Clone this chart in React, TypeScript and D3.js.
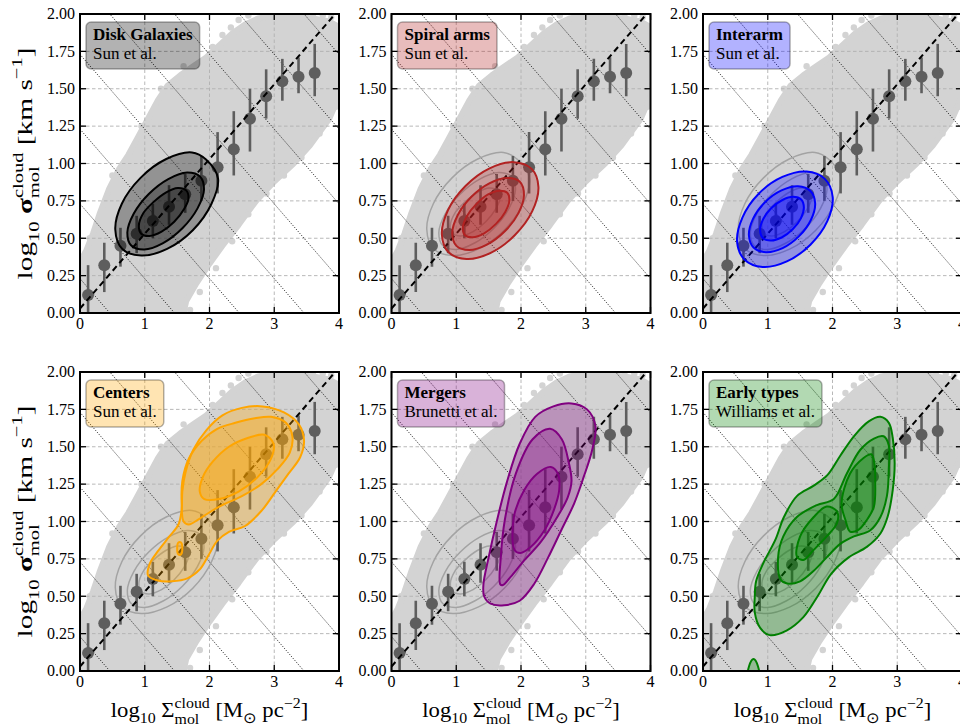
import React, { useEffect, useRef } from 'react';
import * as d3 from 'd3';

type Pt = [number, number];

const SERIF = '"Liberation Serif", "Times New Roman", Times, serif';
const WIDTH = 960;
const HEIGHT = 728;
const PANEL_W = 259;
const PANEL_H = 299;
const COL_LEFT = [80, 391.5, 703];
const ROW_TOP = [14, 372];
const X_TITLE_WIDTH = 198;
const Y_TITLE_LENGTH = 232;

const X_DOMAIN: [number, number] = [0, 4];
const Y_DOMAIN: [number, number] = [0, 2];
const X_TICKS = [0, 1, 2, 3, 4];
const Y_TICKS = [0, 0.25, 0.5, 0.75, 1, 1.25, 1.5, 1.75, 2];

// Binned medians of the full cloud sample, with their scatter ranges
const BIN_X = [0.125, 0.375, 0.625, 0.875, 1.125, 1.375, 1.625, 1.875, 2.125, 2.375, 2.625, 2.875, 3.125, 3.375, 3.625];
const BIN_MEDIAN = [0.12, 0.32, 0.45, 0.53, 0.615, 0.71, 0.795, 0.885, 0.975, 1.095, 1.3, 1.45, 1.55, 1.58, 1.605];
const BIN_LOW = [-0.1, 0.14, 0.31, 0.4, 0.5, 0.59, 0.67, 0.75, 0.8, 0.92, 1.08, 1.3, 1.42, 1.47, 1.45];
const BIN_HIGH = [0.32, 0.47, 0.57, 0.65, 0.73, 0.855, 0.93, 1.05, 1.21, 1.35, 1.5, 1.63, 1.7, 1.71, 1.8];

// Envelope of the dense cloud population and a few isolated clouds around it
const CLOUD_ENVELOPE: Pt[] = [
  [-0.05, -0.1], [-0.05, 0.3], [0.1, 0.42], [0.2, 0.53], [0.3, 0.66], [0.45, 0.83], [0.6, 0.96],
  [0.75, 1.06], [0.9, 1.18], [1.05, 1.3], [1.2, 1.42], [1.35, 1.52], [1.55, 1.59], [1.75, 1.65],
  [1.95, 1.71], [2.15, 1.79], [2.35, 1.87], [2.55, 1.93], [2.75, 1.97], [3.0, 1.99], [3.3, 1.98],
  [3.6, 1.97], [3.85, 1.95], [4.05, 1.9], [4.05, 1.5], [3.85, 1.3], [3.55, 1.12], [3.3, 1.0],
  [3.0, 0.88], [2.72, 0.75], [2.45, 0.59], [2.2, 0.45], [2.0, 0.33], [1.8, 0.2], [1.64, 0.08], [1.55, -0.1],
];
const CLOUD_OUTLIERS: Pt[] = [
  [2.2, 1.86], [2.33, 1.91], [2.45, 1.96], [2.6, 1.99], [2.7, 1.93], [2.85, 2.0], [3.0, 2.02], [3.15, 1.98],
  [3.3, 2.01], [3.45, 1.97], [3.6, 2.0], [3.75, 1.99], [3.88, 1.98], [2.05, 1.78], [1.6, 1.65],
  [1.25, 1.5], [0.95, 1.25], [0.5, 0.92], [0.15, 0.5], [0.0, 0.36], [1.7, 0.02], [1.85, 0.14], [2.1, 0.3],
  [2.35, 0.48], [2.6, 0.66], [2.88, 0.8], [3.15, 0.92], [3.42, 1.04], [3.7, 1.2], [3.95, 1.38],
];

// Virial reference lines: y = c - x/2
const VIRIAL_INTERCEPTS = [0.23, 0.73, 1.23, 1.73, 2.23, 2.73, 3.23, 3.73];
const VIRIAL_SLOPE = -0.5;
// Constant-virial trend: y = x/2 + c
const TREND_SLOPE = 0.5;
const TREND_INTERCEPT = 0.03;

// Density contours (outer, middle, inner) for each environment
const DISK_CONTOURS: Pt[][] = [
  [[1.946, 1.027], [2.132, 0.899], [2.031, 0.731], [1.742, 0.554], [1.345, 0.429], [0.948, 0.384], [0.654, 0.428], [0.545, 0.559], [0.646, 0.731], [0.935, 0.904], [1.332, 1.03], [1.729, 1.074]],
  [[1.855, 0.912], [1.915, 0.826], [1.815, 0.7], [1.585, 0.569], [1.283, 0.468], [0.992, 0.425], [0.791, 0.451], [0.731, 0.538], [0.831, 0.665], [1.062, 0.796], [1.363, 0.896], [1.654, 0.94]],
  [[1.64, 0.82], [1.675, 0.765], [1.608, 0.695], [1.455, 0.61], [1.26, 0.544], [1.072, 0.515], [0.945, 0.53], [0.909, 0.586], [0.977, 0.667], [1.129, 0.74], [1.325, 0.806], [1.512, 0.836]],
];
const SPIRAL_CONTOURS: Pt[][] = [
  [[2.165, 0.964], [2.269, 0.844], [2.174, 0.681], [1.903, 0.52], [1.532, 0.402], [1.158, 0.361], [0.881, 0.406], [0.778, 0.526], [0.873, 0.689], [1.143, 0.85], [1.515, 0.968], [1.889, 1.009]],
  [[1.982, 0.878], [2.046, 0.789], [1.963, 0.67], [1.754, 0.548], [1.474, 0.457], [1.2, 0.421], [1.003, 0.449], [0.938, 0.535], [1.022, 0.654], [1.231, 0.776], [1.511, 0.867], [1.785, 0.903]],
  [[1.788, 0.804], [1.821, 0.752], [1.757, 0.676], [1.614, 0.596], [1.431, 0.533], [1.255, 0.506], [1.135, 0.52], [1.102, 0.573], [1.166, 0.649], [1.309, 0.728], [1.492, 0.793], [1.668, 0.818]],
];
const INTERARM_CONTOURS: Pt[][] = [
  [[1.881, 0.897], [2.003, 0.775], [1.92, 0.614], [1.659, 0.457], [1.295, 0.345], [0.921, 0.308], [0.639, 0.358], [0.526, 0.479], [0.61, 0.64], [0.86, 0.798], [1.226, 0.91], [1.6, 0.946]],
  [[1.659, 0.816], [1.732, 0.734], [1.668, 0.624], [1.484, 0.514], [1.23, 0.434], [0.972, 0.407], [0.781, 0.438], [0.709, 0.52], [0.774, 0.631], [0.957, 0.741], [1.212, 0.82], [1.468, 0.848]],
  [[1.516, 0.759], [1.558, 0.706], [1.512, 0.633], [1.385, 0.56], [1.215, 0.505], [1.047, 0.485], [0.924, 0.502], [0.882, 0.556], [0.929, 0.628], [1.056, 0.702], [1.226, 0.756], [1.394, 0.777]],
];
const CENTER_CONTOURS: Pt[][] = [
  [[1.05, 0.64], [1.08, 0.72], [1.2, 0.8], [1.38, 0.9], [1.52, 0.98], [1.57, 1.08], [1.58, 1.2], [1.63, 1.33], [1.75, 1.48], [1.95, 1.61], [2.2, 1.71], [2.5, 1.76], [2.82, 1.77], [3.15, 1.73], [3.38, 1.65], [3.46, 1.54], [3.4, 1.43], [3.22, 1.32], [3.02, 1.2], [2.8, 1.07], [2.55, 0.97], [2.3, 0.93], [2.12, 0.87], [1.98, 0.77], [1.85, 0.68], [1.66, 0.62], [1.42, 0.6], [1.2, 0.605]],
  [[1.6, 1.0], [1.57, 1.12], [1.58, 1.27], [1.68, 1.42], [1.88, 1.54], [2.12, 1.62], [2.4, 1.66], [2.7, 1.69], [2.95, 1.7], [3.18, 1.66], [3.28, 1.57], [3.24, 1.46], [3.05, 1.35], [2.8, 1.25], [2.5, 1.17], [2.15, 1.1], [1.85, 1.02], [1.68, 0.98]],
  [[1.85, 1.2], [1.9, 1.3], [2.05, 1.4], [2.3, 1.5], [2.6, 1.56], [2.85, 1.58], [2.99, 1.52], [2.95, 1.42], [2.75, 1.3], [2.45, 1.2], [2.15, 1.15], [1.92, 1.15]],
  [[1.5, 0.82], [1.52, 0.86], [1.56, 0.86], [1.58, 0.82], [1.56, 0.78], [1.52, 0.78]],
];
const MERGER_CONTOURS: Pt[][] = [
  [[1.43, 0.5], [1.42, 0.58], [1.5, 0.76], [1.62, 0.99], [1.78, 1.26], [1.98, 1.52], [2.22, 1.7], [2.5, 1.77], [2.78, 1.79], [3.02, 1.75], [3.15, 1.64], [3.1, 1.48], [2.97, 1.3], [2.82, 1.12], [2.62, 0.94], [2.42, 0.76], [2.2, 0.58], [1.98, 0.47], [1.74, 0.44], [1.53, 0.45]],
  [[1.68, 0.58], [1.69, 0.77], [1.75, 1.01], [1.92, 1.32], [2.18, 1.55], [2.45, 1.62], [2.63, 1.55], [2.74, 1.39], [2.78, 1.27], [2.72, 1.16], [2.56, 1.03], [2.3, 0.86], [2.05, 0.74], [1.84, 0.63], [1.72, 0.575]],
  [[1.9, 0.81], [1.89, 1.03], [2.05, 1.21], [2.25, 1.32], [2.46, 1.365], [2.57, 1.32], [2.59, 1.21], [2.51, 1.08], [2.36, 0.94], [2.15, 0.83], [1.99, 0.79]],
];
const EARLY_CONTOURS: Pt[][] = [
  [[0.8, 0.5], [0.82, 0.6], [0.93, 0.72], [1.12, 0.88], [1.25, 1.03], [1.45, 1.17], [1.71, 1.24], [1.92, 1.31], [2.12, 1.44], [2.33, 1.57], [2.56, 1.67], [2.74, 1.7], [2.87, 1.66], [2.93, 1.56], [2.96, 1.39], [2.93, 1.21], [2.85, 1.03], [2.74, 0.92], [2.53, 0.83], [2.25, 0.76], [1.98, 0.65], [1.77, 0.5], [1.55, 0.36], [1.29, 0.27], [1.03, 0.24], [0.88, 0.29], [0.8, 0.39]],
  [[1.2, 0.61], [1.16, 0.76], [1.24, 0.9], [1.45, 1.03], [1.76, 1.11], [2.02, 1.15], [2.22, 1.32], [2.43, 1.48], [2.64, 1.555], [2.79, 1.57], [2.87, 1.51], [2.87, 1.35], [2.84, 1.17], [2.74, 1.03], [2.58, 0.94], [2.33, 0.9], [2.12, 0.85], [1.91, 0.76], [1.71, 0.67], [1.5, 0.6], [1.3, 0.585]],
  [[1.45, 0.765], [1.5, 0.9], [1.71, 1.03], [1.91, 1.1], [2.07, 1.067], [2.07, 0.99], [1.91, 0.9], [1.71, 0.81], [1.55, 0.743]],
  [[2.14, 1.12], [2.27, 1.32], [2.48, 1.425], [2.6, 1.45], [2.65, 1.38], [2.66, 1.257], [2.64, 1.1], [2.53, 1.01], [2.4, 0.944], [2.27, 0.933], [2.2, 1.01]],
  [[0.7, -0.06], [0.71, 0.03], [0.78, 0.08], [0.85, 0.03], [0.86, -0.06], [0.78, -0.1]],
];

const PANEL_TITLES = ['Disk Galaxies', 'Spiral arms', 'Interarm', 'Centers', 'Mergers', 'Early types'];
const PANEL_SOURCES = ['Sun et al.', 'Sun et al.', 'Sun et al.', 'Sun et al.', 'Brunetti et al.', 'Williams et al.'];
const PANEL_COLORS = ['#000000', '#b22222', '#0000ff', '#ffa500', '#800080', '#008000'];
const PANEL_CONTOURS = [DISK_CONTOURS, SPIRAL_CONTOURS, INTERARM_CONTOURS, CENTER_CONTOURS, MERGER_CONTOURS, EARLY_CONTOURS];

const CLOUD_COLOR = '#d3d3d3';
const MEDIAN_COLOR = '#5e5e5e';
const GRID_COLOR = '#b0b0b0';
const REF_CONTOUR_COLOR = '#a3a3a3';

type Piece =
  | { kind: 'main'; text: string; bold?: boolean }
  | { kind: 'sub'; text: string }
  | { kind: 'sup'; text: string }
  | { kind: 'stack'; upper: string; lower: string };

const X_LABEL: Piece[] = [
  { kind: 'main', text: 'log' },
  { kind: 'sub', text: '10' },
  { kind: 'main', text: ' Σ' },
  { kind: 'stack', upper: 'cloud', lower: 'mol' },
  { kind: 'main', text: ' [M' },
  { kind: 'sub', text: '⊙' },
  { kind: 'main', text: ' pc' },
  { kind: 'sup', text: '−2' },
  { kind: 'main', text: ']' },
];
const Y_LABEL: Piece[] = [
  { kind: 'main', text: 'log' },
  { kind: 'sub', text: '10' },
  { kind: 'main', text: ' σ', bold: true },
  { kind: 'stack', upper: 'cloud', lower: 'mol' },
  { kind: 'main', text: ' [km s' },
  { kind: 'sup', text: '−1' },
  { kind: 'main', text: ']' },
];

type Sel = d3.Selection<any, any, any, any>;

function drawMath(parent: Sel, pieces: Piece[], F: number): Sel {
  const text = parent
    .append('text')
    .attr('font-family', SERIF)
    .attr('font-size', F)
    .attr('fill', '#000')
    .attr('text-anchor', 'middle')
    .style('white-space', 'pre');
  let cur = 0;
  let pendingDx = 0;
  const put = (s: string, size: number, off: number, bold: boolean, dx: number) => {
    const ts = text.append('tspan').attr('font-size', size).attr('dy', off - cur).text(s);
    if (dx) ts.attr('dx', dx);
    if (bold) ts.attr('font-weight', 'bold');
    cur = off;
    return (ts.node() as SVGTextContentElement).getComputedTextLength();
  };
  const small = 0.7 * F;
  for (const p of pieces) {
    if (p.kind === 'main') {
      put(p.text, F, 0, !!p.bold, pendingDx);
      pendingDx = 0;
    } else if (p.kind === 'sub') {
      put(p.text, small, 0.3 * F, false, pendingDx);
      pendingDx = 0;
    } else if (p.kind === 'sup') {
      put(p.text, small, -0.45 * F, false, pendingDx);
      pendingDx = 0;
    } else {
      const wu = put(p.upper, small, -0.42 * F, false, pendingDx);
      const wl = put(p.lower, small, 0.33 * F, false, -wu);
      pendingDx = Math.max(0, wu - wl);
    }
  }
  return text;
}

// Stretch a label along its reading direction to a given extent
function fitLength(text: Sel, target: number) {
  const w = (text.node() as SVGTextElement).getBBox().width;
  if (w > 0) text.attr('transform', `scale(${target / w},1)`);
}

export default function App() {
  const ref = useRef<SVGSVGElement | null>(null);

  useEffect(() => {
    const svg = d3.select(ref.current);
    svg.selectAll('*').remove();
    const defs = svg.append('defs');

    PANEL_TITLES.forEach((title, i) => {
      const col = i % 3;
      const row = Math.floor(i / 3);
      const left = COL_LEFT[col];
      const top = ROW_TOP[row];
      const x = d3.scaleLinear().domain(X_DOMAIN).range([left, left + PANEL_W]);
      const y = d3.scaleLinear().domain(Y_DOMAIN).range([top + PANEL_H, top]);
      const color = PANEL_COLORS[i];

      const clipId = `panel-clip-${i}`;
      defs.append('clipPath').attr('id', clipId)
        .append('rect').attr('x', left).attr('y', top).attr('width', PANEL_W).attr('height', PANEL_H);

      const g = svg.append('g');
      const plot = g.append('g').attr('clip-path', `url(#${clipId})`);

      const straight = d3.line<Pt>().x((d) => x(d[0])).y((d) => y(d[1])).curve(d3.curveLinearClosed);
      const smooth = d3.line<Pt>().x((d) => x(d[0])).y((d) => y(d[1])).curve(d3.curveCatmullRomClosed.alpha(0.5));

      // cloud population
      plot.append('path')
        .attr('d', straight(CLOUD_ENVELOPE))
        .attr('fill', CLOUD_COLOR)
        .attr('stroke', CLOUD_COLOR)
        .attr('stroke-width', 6)
        .attr('stroke-linejoin', 'round');
      plot.selectAll('circle.outlier').data(CLOUD_OUTLIERS).join('circle')
        .attr('class', 'outlier')
        .attr('cx', (d) => x(d[0])).attr('cy', (d) => y(d[1])).attr('r', 3.2)
        .attr('fill', CLOUD_COLOR);

      // grid
      X_TICKS.forEach((t) => {
        plot.append('line')
          .attr('x1', x(t)).attr('x2', x(t)).attr('y1', y(Y_DOMAIN[0])).attr('y2', y(Y_DOMAIN[1]))
          .attr('stroke', GRID_COLOR).attr('stroke-width', 0.9).attr('stroke-dasharray', '3.5,2.5');
      });
      Y_TICKS.forEach((t) => {
        plot.append('line')
          .attr('x1', x(X_DOMAIN[0])).attr('x2', x(X_DOMAIN[1])).attr('y1', y(t)).attr('y2', y(t))
          .attr('stroke', GRID_COLOR).attr('stroke-width', 0.9).attr('stroke-dasharray', '3.5,2.5');
      });

      // virial reference lines
      VIRIAL_INTERCEPTS.forEach((c) => {
        plot.append('line')
          .attr('x1', x(X_DOMAIN[0])).attr('y1', y(c + VIRIAL_SLOPE * X_DOMAIN[0]))
          .attr('x2', x(X_DOMAIN[1])).attr('y2', y(c + VIRIAL_SLOPE * X_DOMAIN[1]))
          .attr('stroke', '#000').attr('stroke-width', 0.9).attr('stroke-dasharray', '1,1.6');
      });

      // reference disk contours
      if (i > 0) {
        DISK_CONTOURS.forEach((c) => {
          plot.append('path').attr('d', smooth(c))
            .attr('fill', 'none').attr('stroke', REF_CONTOUR_COLOR).attr('stroke-width', 1.5);
        });
      }

      // binned medians
      BIN_X.forEach((bx, k) => {
        plot.append('line')
          .attr('x1', x(bx)).attr('x2', x(bx)).attr('y1', y(BIN_LOW[k])).attr('y2', y(BIN_HIGH[k]))
          .attr('stroke', MEDIAN_COLOR).attr('stroke-width', 2.6);
        plot.append('circle')
          .attr('cx', x(bx)).attr('cy', y(BIN_MEDIAN[k])).attr('r', 6)
          .attr('fill', MEDIAN_COLOR);
      });

      // constant virial parameter trend
      plot.append('line')
        .attr('x1', x(X_DOMAIN[0])).attr('y1', y(TREND_INTERCEPT + TREND_SLOPE * X_DOMAIN[0]))
        .attr('x2', x(X_DOMAIN[1])).attr('y2', y(TREND_INTERCEPT + TREND_SLOPE * X_DOMAIN[1]))
        .attr('stroke', '#000').attr('stroke-width', 2).attr('stroke-dasharray', '6,4');

      // environment contours
      PANEL_CONTOURS[i].forEach((c) => {
        plot.append('path').attr('d', smooth(c))
          .attr('fill', color).attr('fill-opacity', 0.3)
          .attr('stroke', color).attr('stroke-width', 2);
      });

      // legend box
      const leg = g.append('g');
      const tx = left + 13;
      const t1 = leg.append('text').attr('x', tx).attr('y', top + 25.5)
        .attr('font-family', SERIF).attr('font-size', 17).attr('font-weight', 'bold').text(title);
      const t2 = leg.append('text').attr('x', tx).attr('y', top + 44.5)
        .attr('font-family', SERIF).attr('font-size', 17).text(PANEL_SOURCES[i]);
      const tw = Math.max(
        (t1.node() as SVGTextContentElement).getComputedTextLength(),
        (t2.node() as SVGTextContentElement).getComputedTextLength(),
      );
      leg.insert('rect', ':first-child')
        .attr('x', left + 6).attr('y', top + 8).attr('width', tw + 14).attr('height', 47)
        .attr('rx', 5).attr('ry', 5)
        .attr('fill', color).attr('fill-opacity', 0.3)
        .attr('stroke', '#000').attr('stroke-opacity', 0.3).attr('stroke-width', 1.5);

      // ticks
      const TL = 6;
      X_TICKS.forEach((t) => {
        g.append('line').attr('x1', x(t)).attr('x2', x(t)).attr('y1', top + PANEL_H).attr('y2', top + PANEL_H - TL)
          .attr('stroke', '#000').attr('stroke-width', 1.3);
        g.append('line').attr('x1', x(t)).attr('x2', x(t)).attr('y1', top).attr('y2', top + TL)
          .attr('stroke', '#000').attr('stroke-width', 1.3);
        g.append('text').attr('x', x(t)).attr('y', top + PANEL_H + 16)
          .attr('text-anchor', 'middle').attr('font-family', SERIF).attr('font-size', 16)
          .text(d3.format('d')(t));
      });
      Y_TICKS.forEach((t) => {
        g.append('line').attr('x1', left).attr('x2', left + TL).attr('y1', y(t)).attr('y2', y(t))
          .attr('stroke', '#000').attr('stroke-width', 1.3);
        g.append('line').attr('x1', left + PANEL_W).attr('x2', left + PANEL_W - TL).attr('y1', y(t)).attr('y2', y(t))
          .attr('stroke', '#000').attr('stroke-width', 1.3);
        g.append('text').attr('x', left - 5).attr('y', y(t)).attr('dy', '0.33em')
          .attr('text-anchor', 'end').attr('font-family', SERIF).attr('font-size', 16)
          .text(d3.format('.2f')(t));
      });

      // frame
      g.append('rect').attr('x', left).attr('y', top).attr('width', PANEL_W).attr('height', PANEL_H)
        .attr('fill', 'none').attr('stroke', '#000').attr('stroke-width', 2);

      // axis titles
      if (row === 1) {
        const lg = g.append('g').attr('transform', `translate(${left + PANEL_W / 2},${top + PANEL_H + 46})`);
        fitLength(drawMath(lg, X_LABEL, 21), X_TITLE_WIDTH);
      }
      if (col === 0) {
        const lg = g.append('g').attr('transform', `translate(32,${top + PANEL_H / 2}) rotate(-90)`);
        fitLength(drawMath(lg, Y_LABEL, 22), Y_TITLE_LENGTH);
      }
    });
  }, []);

  return (
    <svg
      ref={ref}
      width={WIDTH}
      height={HEIGHT}
      style={{ position: 'absolute', left: 0, top: 0, background: '#fff' }}
    />
  );
}
